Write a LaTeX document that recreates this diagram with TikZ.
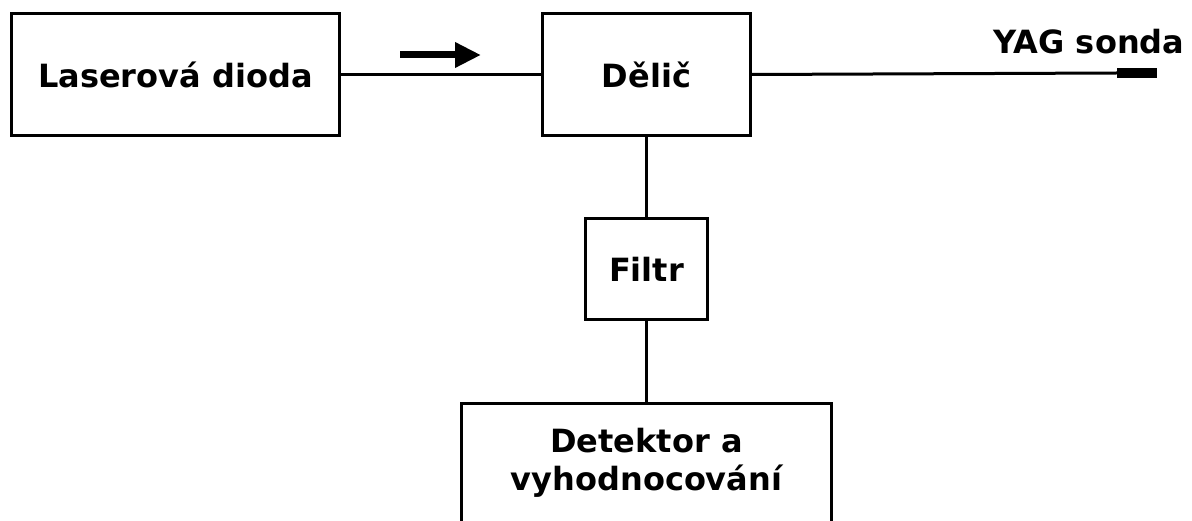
\documentclass[tikz,border=0pt]{standalone}
\usepackage{fontspec}
\setmainfont{DejaVu Sans}
\usetikzlibrary{arrows.meta}
\begin{document}
\begin{tikzpicture}[x=1pt,y=-1pt,
  blk/.style={draw=black,line width=3pt,inner sep=0pt,anchor=north west},
  lbl/.style={font=\fontsize{32}{38}\selectfont\bfseries,align=center},
  wire/.style={line width=3pt}]
\useasboundingbox (0,0) rectangle (1192,521);
\begin{scope}
\clip (0,0) rectangle (1192,521);
% boxes
\node[blk,minimum width=328pt,minimum height=122pt] (laser) at (10,12) {};
\node[blk,minimum width=208pt,minimum height=122pt] (delic) at (541,12) {};
\node[blk,minimum width=122pt,minimum height=101pt] (filtr) at (584,217) {};
\node[blk,minimum width=370pt,minimum height=160pt] (det) at (460,402) {};
% labels
\node[lbl] (tlaser) at (laser.center) {Laserová dioda};
\node[lbl] (tdelic) at (delic.center) {Dělič};
\node[lbl] (tfiltr) at (filtr.center) {Filtr};
\node[lbl,anchor=north] (tdet) at ([yshift=-23pt]det.north) {Detektor a\\vyhodnocování};
% connectors
\draw[wire] (laser.east) -- (delic.west);
\coordinate (probe) at (1117,73);
\draw[wire] (delic.east) -- (probe);
\node[fill=black,inner sep=0pt,minimum width=40pt,minimum height=10pt,anchor=west] (tip) at (probe) {};
\node[lbl,anchor=south] (tyag) at (1089,57) {YAG sonda};
\draw[wire] (delic.south) -- (filtr.north);
\draw[wire] (filtr.south) -- (det.north);
% direction arrow
\coordinate (a0) at (400,55);
\coordinate (a1) at (481,55);
\draw[line width=7pt,-{Triangle[length=26pt,width=24pt]}] (a0) -- (a1);
\end{scope}
\end{tikzpicture}
\end{document}
